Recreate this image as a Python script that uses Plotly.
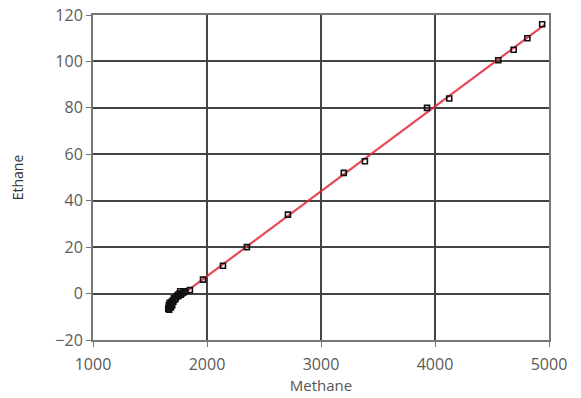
import numpy as np
import plotly.graph_objects as go

methane = [4940, 4810, 4690, 4555, 4125, 3930, 3385, 3200, 2710, 2350, 2140, 1965, 1850,
           1810, 1795, 1780, 1770, 1760, 1750, 1740, 1730, 1720, 1710, 1700, 1690, 1685,
           1680, 1675, 1670, 1665, 1660, 1668, 1690, 1705, 1725, 1745, 1765, 1672, 1683, 1695]
ethane = [116, 110, 105, 100.5, 84, 80, 57, 52, 34, 20, 12, 6, 1.5,
          1, 0.5, 0, -0.5, 0, -1, -1, -1.5, -2.5, -2, -3, -3.5, -4,
          -4.5, -5.5, -6, -5, -6.5, -7, -5, -3.5, -2, -0.5, 1, -4, -6, -5]

slope, intercept = np.polyfit(methane, ethane, 1)
line_x = [min(methane) + 40, max(methane) + 20]
line_y = [slope * v + intercept for v in line_x]

x_ticks = [1000, 2000, 3000, 4000, 5000]
y_ticks = [-20, 0, 20, 40, 60, 80, 100, 120]

fig = go.Figure()
fig.add_trace(go.Scatter(x=line_x, y=line_y, mode="lines",
                         line=dict(color="rgba(225,40,60,0.85)", width=2.2),
                         showlegend=False, hoverinfo="skip"))
fig.add_trace(go.Scatter(x=methane, y=ethane, mode="markers",
                         marker=dict(symbol="square-open", size=5, color="#111",
                                     line=dict(width=1.6, color="#111")),
                         showlegend=False))

font = dict(family="Open Sans, Noto Sans, sans-serif", size=16, color="#5a5a5a")
fig.update_layout(
    width=581, height=398,
    margin=dict(l=93, r=32, t=15, b=58),
    paper_bgcolor="white", plot_bgcolor="white",
    font=font,
    xaxis=dict(range=[1000, 5000], tickvals=x_ticks, showgrid=True, automargin=False,
               gridcolor="#444", gridwidth=1.5, showline=True, linecolor="#777",
               linewidth=2, mirror=True, ticks="outside", ticklen=5,
               tickcolor="#777", zeroline=False, ticklabelstandoff=4,
               tickfont=dict(size=16, color="#5a5a5a"),
               title=dict(text="Methane", font=dict(size=15, color="#555"), standoff=4)),
    yaxis=dict(range=[-20, 120], tickvals=y_ticks, showgrid=True, automargin=False,
               gridcolor="#444", gridwidth=1.5, showline=True, linecolor="#777",
               linewidth=2, mirror=True, ticks="outside", ticklen=5,
               tickcolor="#777", zeroline=False,
               tickfont=dict(size=16, color="#5a5a5a"),
               title=dict(text="Ethane", font=dict(size=14, color="#333"), standoff=28)),
)
fig.write_html("out.html", config={"displayModeBar": False},
               post_script="document.body.style.margin='0';document.body.style.padding='0';")
